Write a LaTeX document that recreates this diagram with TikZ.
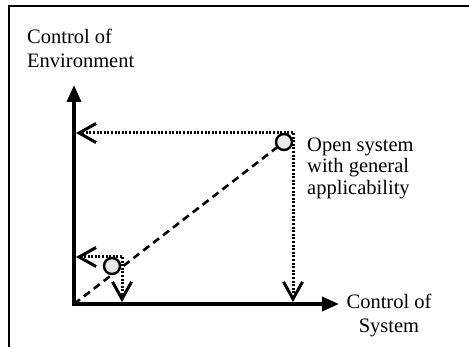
\documentclass[tikz,border=0pt]{standalone}
\usepackage{fontspec}
\setmainfont{Liberation Serif}
\usetikzlibrary{arrows.meta}
\begin{document}
\begin{tikzpicture}[x=1pt,y=-1pt,
  axis/.style={line width=3.5pt,line cap=rect,-{Triangle[length=17pt,width=14pt]}},
  guide/.style={line width=3pt,dash pattern=on 2pt off 1.6pt,shorten >=2pt,
    -{Straight Barb[length=17pt,width=19pt,line width=3pt]}},
  diag/.style={line width=2.6pt,dash pattern=on 7.5pt off 5pt},
  pt/.style={circle,draw,line width=2.4pt,fill=black!9,minimum size=16pt,inner sep=0pt},
  lbl/.style={font=\fontsize{20.5}{24}\selectfont,inner sep=0pt}]
\useasboundingbox (0,0) rectangle (469,347);
\draw[line width=2.5pt] (9,347) -- (9,6) -- (469,6);
% axes
\coordinate (O) at (74,304);
\coordinate (Y) at (74,85);
\coordinate (X) at (339,304);
\draw[axis] (O) -- (Y);
\draw[axis] (O) -- (X);
% points
\coordinate (k1) at (293,133);
\coordinate (k2) at (122,257);
\coordinate (c1pos) at (284,142);
\coordinate (c2pos) at (112,266);
\draw[diag] (O) -- (c1pos);
\draw[guide] (k1) -- (k1 -| O);
\draw[guide] (k1) -- (k1 |- O);
\draw[guide] (k2) -- (k2 -| O);
\draw[guide] (k2) -- (k2 |- O);
\node[pt] (c1) at (c1pos) {};
\node[pt] (c2) at (c2pos) {};
% labels
\node[lbl,anchor=north west,align=left] (ylab) at (27,29) {Control of\\Environment};
\node[lbl,anchor=north west,align=left,font=\fontsize{20.5}{21.5}\selectfont] (olab) at (307,137.5) {Open system\\with general\\applicability};
\node[lbl,anchor=north,align=center] (xlab) at (389,294) {Control of\\System};
\end{tikzpicture}
\end{document}
